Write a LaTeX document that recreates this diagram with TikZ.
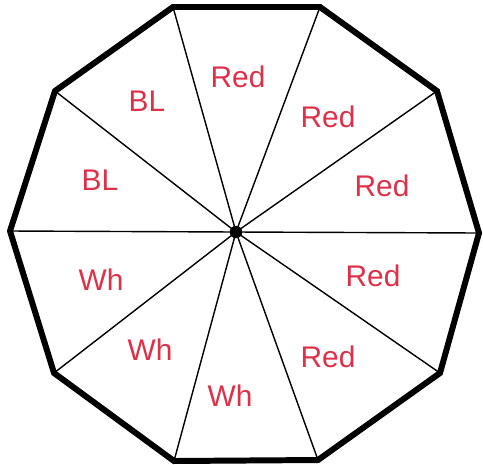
\documentclass[tikz,border=0pt]{standalone}
\usepackage{fontspec}
\setmainfont{Liberation Sans}
\usepackage{xcolor}
\usepackage{tikz}
\usetikzlibrary{positioning}
\definecolor{penred}{RGB}{222,48,72}
\begin{document}
\begin{tikzpicture}[
        x=0.02cm, y=-0.02cm,
        rim/.style = {line width=3.4pt, line join=miter},
        spoke/.style = {line width=0.8pt},
        hub/.style = {circle, fill=black, inner sep=0pt, minimum size=0.25cm},
        lbl/.style = {text=penred, inner sep=1pt, font=\fontsize{17}{17}\selectfont}
    ]
        \useasboundingbox (0,0) rectangle (483,464);
        % Corners of the decagon
        \coordinate (v1) at (173,7);
        \coordinate (v2) at (320,7);
        \coordinate (v3) at (437,91);
        \coordinate (v4) at (479,233);
        \coordinate (v5) at (440,373);
        \coordinate (v6) at (318,460);
        \coordinate (v7) at (174,461);
        \coordinate (v8) at (54,373);
        \coordinate (v9) at (10,231);
        \coordinate (v10) at (55,91);
        \node [hub] (C) at (236,232) {};
        
        % Spokes
        \foreach \i in {1,...,10}
            \draw [spoke] (C.center) -- (v\i);
        
        % Rim
        \draw [rim] (v1) -- (v2) -- (v3) -- (v4) -- (v5) -- (v6) -- (v7) -- (v8) -- (v9) -- (v10) -- cycle;
        
        % Labels of the sectors
        \node [lbl] (r1) at (238,77) {Red};
        \node [lbl] (r2) at (328,117) {Red};
        \node [lbl] (r3) at (382,186) {Red};
        \node [lbl] (r4) at (373,276) {Red};
        \node [lbl] (r5) at (328,357) {Red};
        \node [lbl] (w1) at (230,396) {Wh};
        \node [lbl] (w2) at (150,350) {Wh};
        \node [lbl] (w3) at (101,280) {Wh};
        \node [lbl] (b1) at (100,180) {BL};
        \node [lbl] (b2) at (147,101) {BL};
        
    \end{tikzpicture}
\end{document}
